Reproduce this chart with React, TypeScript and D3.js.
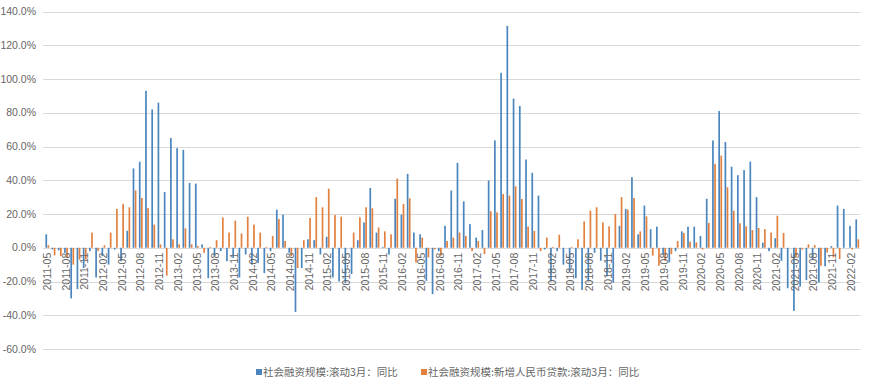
import React from "react";
import * as d3 from "d3";

const W = 871;
const H = 390;

// Monthly categories 2011-05 .. 2022-03
const months: string[] = d3
  .timeMonths(new Date(2011, 4, 1), new Date(2022, 3, 1))
  .map((d) => d3.timeFormat("%Y-%m")(d));

// 社会融资规模:滚动3月:同比 (%)
const tsfYoY: number[] = [
  8, -1, -1.5, -3, -30, -24.5, -12, -2, -17.6, -5, -10, -1,
  -8, 10, 47, 51, 93, 82, 86, 33, 65, 59, 58, 38.4,
  38, 2, -18, -5, -2, -8, -6, -17.6, -4, -10, -9, -15,
  -2, 22.6, 19.6, -3, -38, -12, 5, 4.5, -4, 6.5, -17.6, -20,
  -21, -15.6, 4.5, 15, 35.4, 9, 0.5, -4, 29, 19.6, 43.8, 9,
  8, -19.6, -27.5, -2, 13, 33.9, 50.3, 27.5, 14, 6, 10.5, 39.8,
  63.6, 103.6, 131.5, 88.3, 84, 52.3, 44.4, 30.9, -1, -20, -2, -10,
  -14, -18, -25, -20, -3, -7.7, -17, -20.6, 13, 23, 41.8, 8,
  25, 11, 12.5, -4, -8.7, -2, 9.7, 12.5, 12.5, 7, 29, 63.6,
  81, 62.6, 48, 43, 46, 51, 30, 3, -2, 5.7, -7.7, -24,
  -37.4, -23, -19.2, -6.7, -20.6, -11, 1, 25, 23, 13, 16.8,
];

// 社会融资规模:新增人民币贷款:滚动3月:同比 (%)
const loanYoY: number[] = [
  1.5, -4.5, -5, -6, -10, -7, -7, 9, -2, 1.5, 9, 23,
  26, 24, 34, 29.5, 23.5, 13.7, 2, -16.5, 5, 2, 11.5, 2,
  1, -3, 0.5, 4.5, 18, 9, 16, 8.5, 18.4, 13.7, 9, 0.5,
  7, 17, 4, -5, -12, 4.5, 17.6, 30, 24, 35, 19.4, 18.4,
  0, 9, 18, 24, 23.4, 12, 9.7, 8, 41, 26, 29.3, -8.7,
  6, -5.7, -1, -4.7, 4, 6, 9, 7, -2, 4, -3.8, 21.6,
  21, 31.9, 30.9, 36.4, 28.9, 12.5, 10, -2, 6, 0.5, 7.7, 0,
  0.5, 5, 15.6, 22, 24, 15, 12.7, 20, 30, 22.6, 29.5, 9.7,
  18.6, -4.7, -10.7, -7.7, -3.8, 4, 8.7, 3.6, 3.2, -1, 14.7, 49.7,
  54.6, 35.8, 22, 14.5, 12.7, 10.5, 11.7, 11, 9, 19, 8.7, 0,
  -5.7, -1, 2, 1.6, -10.7, -2.8, -5.7, -6.7, 0, -1, 5,
];

const yTicks: number[] = [-60, -40, -20, 0, 20, 40, 60, 80, 100, 120, 140];
const seriesNames: string[] = [
  "社会融资规模:滚动3月：同比",
  "社会融资规模:新增人民币贷款:滚动3月：同比",
];
const colors: string[] = ["#4a86bd", "#e2803f"];

export default function App() {
  const left = 44.2;
  const right = 860.4;
  const top = 11.5;
  const bottom = 349;

  const x = d3.scaleBand<string>().domain(months).range([left, right]).paddingInner(0).paddingOuter(0);
  const y = d3.scaleLinear().domain([-60, 140]).range([bottom, top]);
  const bw = x.bandwidth();
  const barW = 1.7;
  const font = "'Liberation Sans', 'Noto Sans', sans-serif";
  const cjk = "'Noto Sans CJK SC', sans-serif";

  const series = [tsfYoY, loanYoY];

  return (
    <svg
      width={W}
      height={H}
      style={{ position: "absolute", left: 0, top: 0, background: "#fff" }}
    >
      <rect x={0} y={0} width={W} height={H} fill="#fff" />
      {yTicks.map((t) => (
        <g key={t}>
          <line
            x1={left - 1}
            x2={right}
            y1={Math.round(y(t)) + 0.5}
            y2={Math.round(y(t)) + 0.5}
            stroke="#d9d9d9"
            strokeWidth={1}
          />
          <text
            x={36}
            y={y(t)}
            dy="0.35em"
            textAnchor="end"
            fontFamily={font}
            fontSize={10.5}
            fill="#666"
          >
            {t.toFixed(1)}%
          </text>
        </g>
      ))}
      {series.map((vals, si) =>
        vals.map((v, i) => {
          const cx = (x(months[i]) as number) + bw / 2;
          const bx = si === 0 ? cx - barW - 0.2 : cx + 0.2;
          const y0 = y(0);
          const yv = y(v);
          return (
            <rect
              key={`${si}-${i}`}
              x={bx}
              y={Math.min(y0, yv)}
              width={barW}
              height={Math.abs(yv - y0)}
              fill={colors[si]}
            />
          );
        })
      )}
      {months.map((m, i) =>
        i % 3 === 0 ? (
          <text
            key={m}
            transform={`translate(${(x(m) as number) + bw / 2},${y(0) + 5}) rotate(-90)`}
            textAnchor="end"
            dy="0.35em"
            fontFamily={font}
            fontSize={10.5}
            fill="#666"
          >
            {m}
          </text>
        ) : null
      )}
      <g>
        <rect x={256} y={369} width={6} height={6} fill={colors[0]} />
        <text x={263} y={372} dy="0.35em" fontFamily={cjk} fontSize={10.5} fill="#666">
          {seriesNames[0]}
        </text>
        <rect x={421} y={369} width={6} height={6} fill={colors[1]} />
        <text x={428} y={372} dy="0.35em" fontFamily={cjk} fontSize={10.5} fill="#666">
          {seriesNames[1]}
        </text>
      </g>
    </svg>
  );
}
